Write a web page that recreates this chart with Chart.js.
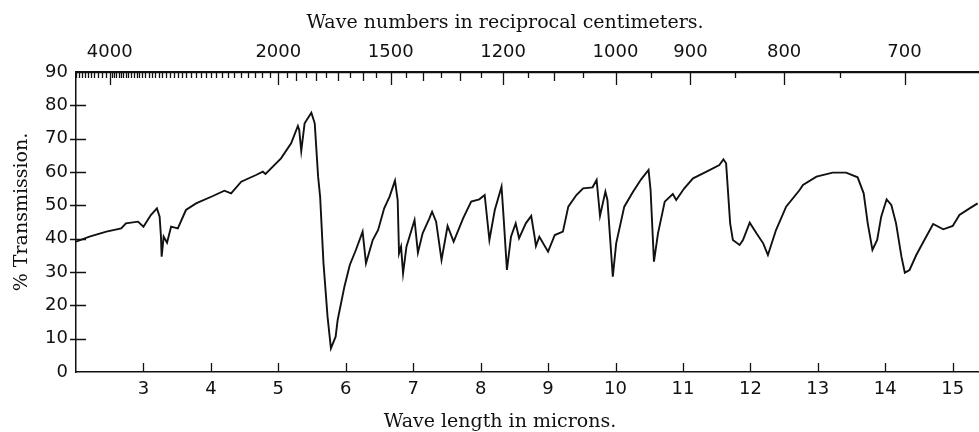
<!DOCTYPE html>
<html>
<head>
<meta charset="utf-8">
<script src="https://cdn.jsdelivr.net/npm/chart.js@4.4.0/dist/chart.umd.min.js"></script>
<style>
  html, body { margin: 0; padding: 0; background: #fff; }
  #wrap { width: 979px; height: 432px; }
</style>
</head>
<body>
<div id="wrap"><canvas id="spectrum"></canvas></div>
<script>
// wave length (microns) and % transmission
const wavelength = [
  2.00, 2.20, 2.45, 2.67, 2.74, 2.92, 3.00, 3.11, 3.20, 3.24, 3.26, 3.27, 3.30, 3.35, 3.41, 3.51,
  3.63, 3.78, 4.03, 4.20, 4.30, 4.45, 4.67, 4.77, 4.81, 5.04, 5.19, 5.29, 5.31, 5.34, 5.39, 5.49,
  5.54, 5.59, 5.62, 5.67, 5.73, 5.78, 5.85, 5.88, 5.98, 6.06, 6.15, 6.25, 6.30, 6.40, 6.48, 6.57,
  6.65, 6.73, 6.77, 6.79, 6.82, 6.85, 6.90, 7.02, 7.07, 7.14, 7.24, 7.28, 7.34, 7.42, 7.51, 7.60,
  7.74, 7.86, 7.98, 8.06, 8.13, 8.21, 8.31, 8.34, 8.39, 8.45, 8.52, 8.57, 8.67, 8.75, 8.80, 8.82,
  8.87, 9.00, 9.10, 9.22, 9.30, 9.42, 9.52, 9.66, 9.72, 9.77, 9.85, 9.88, 9.96, 10.01, 10.13, 10.26,
  10.38, 10.49, 10.52, 10.57, 10.63, 10.73, 10.85, 10.90, 11.02, 11.15, 11.35, 11.54, 11.60, 11.64, 11.70, 11.74,
  11.84, 11.89, 11.99, 12.09, 12.19, 12.26, 12.38, 12.53, 12.73, 12.78, 12.98, 13.22, 13.42, 13.59, 13.68, 13.74,
  13.81, 13.88, 13.94, 14.02, 14.09, 14.16, 14.24, 14.29, 14.36, 14.46, 14.58, 14.71, 14.86, 15.00, 15.10, 15.25,
  15.37
];
const transmission = [
  39.1, 40.6, 42.1, 43.1, 44.6, 45.1, 43.6, 47.1, 49.1, 46.6, 40.6, 34.6, 40.6, 38.8, 43.6, 43.1,
  48.6, 50.6, 52.8, 54.4, 53.6, 57.1, 59.1, 60.1, 59.4, 64.1, 68.6, 73.8, 72.6, 66.3, 74.6, 77.8,
  74.6, 58.6, 52.6, 32.6, 16.6, 7.1, 10.6, 15.6, 25.6, 32.1, 36.6, 42.1, 32.6, 39.6, 42.6, 49.1,
  52.6, 57.4, 51.6, 35.6, 37.6, 29.6, 37.6, 45.6, 35.8, 41.6, 46.1, 48.1, 45.1, 33.6, 43.8, 39.1,
  46.1, 51.1, 51.8, 53.1, 39.6, 48.6, 55.6, 46.6, 30.6, 40.6, 44.6, 40.1, 44.6, 46.8, 40.6, 37.8,
  40.6, 36.1, 41.1, 42.1, 49.6, 53.1, 55.1, 55.4, 57.6, 46.8, 54.1, 51.6, 28.6, 38.6, 49.6, 54.1,
  57.8, 60.6, 54.6, 33.1, 41.6, 51.1, 53.4, 51.6, 55.1, 58.1, 60.1, 62.1, 63.8, 62.6, 44.6, 39.6,
  38.1, 39.6, 44.8, 41.6, 38.6, 35.1, 42.6, 49.6, 54.6, 56.1, 58.6, 59.8, 59.8, 58.4, 53.6, 44.6,
  36.6, 39.6, 46.6, 51.8, 50.1, 44.6, 34.6, 29.8, 30.6, 35.1, 39.6, 44.4, 42.8, 43.8, 47.1, 49.1,
  50.6
];
const micronTicks = [3, 4, 5, 6, 7, 8, 9, 10, 11, 12, 13, 14, 15];
const percentTicks = [0, 10, 20, 30, 40, 50, 60, 70, 80, 90];
const wavenumberLabels = [4000, 2000, 1500, 1200, 1000, 900, 800, 700];

// marks along the top (wave number) scale
const wavenumberMarks = [];
for (let wn = 5000; wn > 4000; wn -= 100) wavenumberMarks.push(wn);
for (let wn = 4000; wn >= 700; wn -= 50) wavenumberMarks.push(wn);

const tickFont = { family: "'DejaVu Sans'", size: 18 };
const ink = "#111";

// ticks point into the plot like on the original chart paper
const paperMarks = {
  id: "paperMarks",
  afterDraw(chart) {
    const { ctx, chartArea } = chart;
    const xs = chart.scales.x, xTop = chart.scales.x2, ys = chart.scales.y;
    ctx.save();
    ctx.strokeStyle = ink;
    ctx.lineWidth = 1.3;
    ctx.beginPath();
    micronTicks.forEach((v) => {
      const px = Math.round(xs.getPixelForValue(v)) + 0.5;
      ctx.moveTo(px, chartArea.bottom);
      ctx.lineTo(px, chartArea.bottom - 9);
    });
    wavenumberMarks.forEach((wn) => {
      const px = Math.round(xTop.getPixelForValue(10000 / wn)) + 0.5;
      let len = 6;
      if (wavenumberLabels.includes(wn)) len = 13;
      else if (wn < 2000 && wn % 100 === 0) len = 9;
      ctx.moveTo(px, chartArea.top);
      ctx.lineTo(px, chartArea.top + len);
    });
    percentTicks.slice(1, -1).forEach((v) => {
      const py = Math.round(ys.getPixelForValue(v)) + 0.5;
      ctx.moveTo(chartArea.left - 6, py);
      ctx.lineTo(chartArea.left + 10, py);
    });
    ctx.stroke();

    ctx.fillStyle = ink;
    ctx.font = "19px 'DejaVu Serif'";
    ctx.textAlign = "center";
    ctx.textBaseline = "alphabetic";
    ctx.fillText("Wave numbers in reciprocal centimeters.", 505, 28);
    ctx.fillText("Wave length in microns.", 500, 427);
    ctx.translate(22, 212);
    ctx.rotate(-Math.PI / 2);
    ctx.textBaseline = "middle";
    ctx.fillText("% Transmission.", 0, 0);
    ctx.restore();
  },
};

new Chart(document.getElementById("spectrum"), {
  type: "line",
  data: {
    datasets: [
      {
        data: wavelength.map((w, i) => ({ x: w, y: transmission[i] })),
        borderColor: ink,
        borderWidth: 1.9,
        pointRadius: 0,
        tension: 0,
        fill: false,
      },
    ],
  },
  options: {
    responsive: true,
    maintainAspectRatio: false,
    animation: false,
    layout: { padding: 0 },
    plugins: { legend: { display: false }, tooltip: { enabled: false } },
    scales: {
      x: {
        type: "linear",
        position: "bottom",
        min: 2,
        max: 15.39,
        afterBuildTicks: (s) => { s.ticks = micronTicks.map((v) => ({ value: v })); },
        afterFit: (s) => { s.height = 60; },
        grid: { display: false, drawTicks: false },
        border: { display: true, color: ink, width: 1.5 },
        ticks: { padding: 7, color: ink, font: tickFont, maxRotation: 0, minRotation: 0, autoSkip: false },
      },
      x2: {
        type: "linear",
        position: "top",
        min: 2,
        max: 15.39,
        afterBuildTicks: (s) => { s.ticks = wavenumberMarks.map((wn) => ({ value: 10000 / wn })); },
        afterFit: (s) => { s.height = 72; },
        grid: { display: false, drawTicks: false },
        border: { display: true, color: ink, width: 2.2 },
        ticks: {
          padding: 9,
          color: ink,
          font: tickFont,
          maxRotation: 0,
          minRotation: 0,
          autoSkip: false,
          callback: (value, index) => {
            const wn = wavenumberMarks[index];
            return wavenumberLabels.includes(wn) ? String(wn) : "";
          },
        },
      },
      y: {
        min: 0,
        max: 90,
        afterBuildTicks: (s) => { s.ticks = percentTicks.map((v) => ({ value: v })); },
        afterFit: (s) => { s.width = 76; },
        grid: { display: false, drawTicks: false },
        border: { display: true, color: ink, width: 1.5 },
        ticks: { padding: 8, color: ink, font: tickFont },
      },
    },
  },
  plugins: [paperMarks],
});
</script>
</body>
</html>
